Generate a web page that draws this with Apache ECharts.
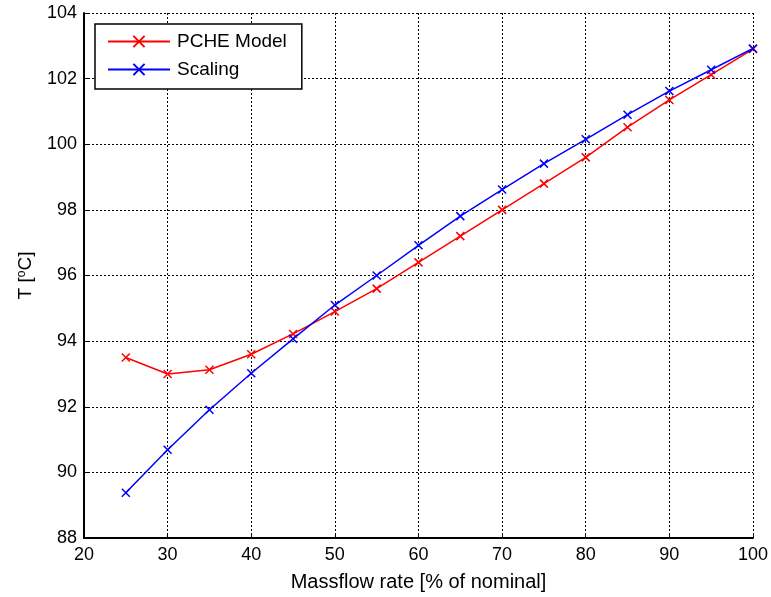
<!DOCTYPE html>
<html><head><meta charset="utf-8">
<script src="https://cdn.jsdelivr.net/npm/echarts@6/dist/echarts.min.js"></script>
<style>html,body{margin:0;padding:0;background:#fff}#c{width:771px;height:597px}</style>
</head><body><div id="c"></div>
<script>
const massflow = [25,30,35,40,45,50,55,60,65,70,75,80,85,90,95,100];
const pcheModel = [93.5,93.0,93.13,93.6,94.22,94.9,95.6,96.4,97.2,98.0,98.8,99.6,100.52,101.35,102.12,102.9];
const scaling = [89.38,90.69,91.91,93.02,94.07,95.1,96.0,96.92,97.81,98.62,99.41,100.15,100.9,101.62,102.27,102.92];
const seriesNames = ['PCHE Model','Scaling'];
const seriesColors = ['#ff0000','#0000ff'];

const xMark = 'path://M0,0L10,10M10,0L0,10';
const font = 'Liberation Sans, Arial, sans-serif';
const chart = echarts.init(document.getElementById('c'), null, {renderer:'canvas'});
function mk(name, vals, color){
  return {
    name, type:'line', data: massflow.map((x,i)=>[x, vals[i]]),
    symbol: xMark, symbolSize: 8, showSymbol: true,
    lineStyle:{color, width:1.5},
    itemStyle:{color:'none', borderColor:color, borderWidth:1.5},
    emphasis:{disabled:true}, animation:false
  };
}
chart.setOption({
  animation:false,
  backgroundColor:'#fff',
  grid:{left:84, top:13, right:18, bottom:57, show:true, borderColor:'#000', borderWidth:0},
  legend:{
    left:95, top:24, orient:'vertical', backgroundColor:'#fff',
    borderColor:'#000', borderWidth:1.5, padding:[8,15,10,12], itemGap:9,
    itemWidth:62, itemHeight:14,
    textStyle:{fontFamily:font, fontSize:19, color:'#000', padding:[0,0,0,2]},
    data: seriesNames
  },
  xAxis:{
    type:'value', min:20, max:100, interval:10,
    name:'Massflow rate [% of nominal]', nameLocation:'middle', nameGap:34,
    nameTextStyle:{fontFamily:font, fontSize:20, color:'#000'},
    axisLine:{show:true, lineStyle:{color:'#000', width:2}},
    axisTick:{show:true, inside:true, length:5, lineStyle:{color:'#000'}},
    axisLabel:{fontFamily:font, fontSize:18, color:'#000', margin:8},
    splitLine:{show:true, lineStyle:{color:'#000', type:[2,2], width:1}}
  },
  yAxis:{
    type:'value', min:88, max:104, interval:2,
    name:'{a|T [}{s|o}{a|C]}', nameLocation:'middle', nameGap:49,
    nameTextStyle:{rich:{a:{fontFamily:font, fontSize:19, color:'#000'}, s:{fontFamily:font, fontSize:12, color:'#000', verticalAlign:'top', padding:[0,0,7,0]}}},
    axisLine:{show:true, lineStyle:{color:'#000', width:2}},
    axisTick:{show:true, inside:true, length:5, lineStyle:{color:'#000'}},
    axisLabel:{fontFamily:font, fontSize:18, color:'#000', margin:7},
    splitLine:{show:true, lineStyle:{color:'#000', type:[2,2], width:1}}
  },
  series:[mk(seriesNames[0], pcheModel, seriesColors[0]), mk(seriesNames[1], scaling, seriesColors[1])]
});
</script></body></html>
